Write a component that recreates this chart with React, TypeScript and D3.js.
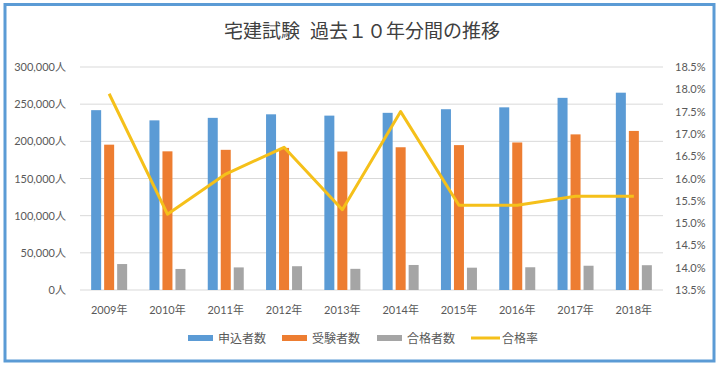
import React from 'react';
import * as d3 from 'd3';

// 宅建試験データ
const years = ['2009', '2010', '2011', '2012', '2013', '2014', '2015', '2016', '2017', '2018'];
const applicants = [241944, 228214, 231596, 236350, 234586, 238343, 243199, 245742, 258511, 265444];
const examinees = [195515, 186542, 188572, 191169, 186304, 192029, 194926, 198463, 209354, 213993];
const passers = [34918, 28311, 30391, 32000, 28470, 33670, 30028, 30589, 32644, 33360];
const passRate = [17.9, 15.2, 16.1, 16.7, 15.3, 17.5, 15.4, 15.4, 15.6, 15.6];
const leftTicks = [0, 50000, 100000, 150000, 200000, 250000, 300000];
const rightTicks = [13.5, 14.0, 14.5, 15.0, 15.5, 16.0, 16.5, 17.0, 17.5, 18.0, 18.5];

const seriesNames = ['申込者数', '受験者数', '合格者数'];
const seriesColors = ['#5B9BD5', '#ED7D31', '#A5A5A5'];
const lineColor = '#F5C01A';

const W = 720;
const H = 366;
const FONT = "Lato, 'Noto Sans CJK JP', sans-serif";

const App = () => {
  const left = 80;
  const right = 663;
  const top = 67;
  const bottom = 290;

  const x = d3.scaleBand().domain(years).range([left, right]).paddingInner(0).paddingOuter(0);
  const yL = d3.scaleLinear().domain([0, 300000]).range([bottom, top]);
  const yR = d3.scaleLinear().domain([13.5, 18.5]).range([bottom, top]);

  const barW = 10;
  const gap = 3;
  const groupW = barW * 3 + gap * 2;

  const data = [applicants, examinees, passers];

  const line = d3
    .line<number>()
    .x((d, i) => (x(years[i]) as number) + x.bandwidth() / 2)
    .y((d) => yR(d));

  const fmt = d3.format(',');

  const legendItems = [
    { name: seriesNames[0], color: seriesColors[0], x: 188, type: 'bar' },
    { name: seriesNames[1], color: seriesColors[1], x: 282, type: 'bar' },
    { name: seriesNames[2], color: seriesColors[2], x: 377, type: 'bar' },
    { name: '合格率', color: lineColor, x: 471, type: 'line' },
  ];

  return (
    <svg width={W} height={H} style={{ position: 'absolute', left: 0, top: 0, fontFamily: FONT }}>
      <rect x={0} y={0} width={W} height={H} fill="#fff" />
      <rect x={5} y={4.5} width={709} height={356.5} fill="#fff" stroke="#5B9BD5" strokeWidth={3} />

      <text x={224} y={38} fontSize={19} fill="#404040" fontFamily="'Noto Sans CJK JP', sans-serif">
        宅建試験
        <tspan dx={10}>過去１０年分間の推移</tspan>
      </text>

      {/* gridlines */}
      {leftTicks.map((t) => (
        <line key={t} x1={left} x2={right} y1={yL(t)} y2={yL(t)} stroke="#D9D9D9" strokeWidth={1} />
      ))}

      {/* left axis labels */}
      {leftTicks.map((t) => (
        <text key={t} x={66} y={yL(t) + 4} textAnchor="end" fontSize={11} fill="#595959">
          {fmt(t)}人
        </text>
      ))}

      {/* right axis labels */}
      {rightTicks.map((t) => (
        <text key={t} x={675} y={yR(t) + 4} textAnchor="start" fontSize={11} fill="#595959">
          {t.toFixed(1)}%
        </text>
      ))}

      {/* bars */}
      {data.map((vals, s) =>
        vals.map((v, i) => {
          const bx = (x(years[i]) as number) + x.bandwidth() / 2 - groupW / 2 + s * (barW + gap);
          return (
            <rect
              key={s + '-' + i}
              x={bx}
              y={yL(v)}
              width={barW}
              height={bottom - yL(v)}
              fill={seriesColors[s]}
            />
          );
        })
      )}

      {/* x labels */}
      {years.map((yr) => (
        <text
          key={yr}
          x={(x(yr) as number) + x.bandwidth() / 2}
          y={314}
          textAnchor="middle"
          fontSize={11}
          fill="#595959"
        >
          {yr}年
        </text>
      ))}

      {/* pass rate line */}
      <path d={line(passRate) || ''} fill="none" stroke={lineColor} strokeWidth={3} strokeLinejoin="round" />

      {/* legend */}
      {legendItems.map((it) => (
        <g key={it.name}>
          {it.type === 'bar' ? (
            <rect x={it.x} y={335} width={25} height={6} fill={it.color} />
          ) : (
            <line x1={it.x} x2={it.x + 29} y1={338} y2={338} stroke={it.color} strokeWidth={3} />
          )}
          <text x={it.x + (it.type === 'bar' ? 30 : 31)} y={342.5} fontSize={12} fill="#595959">
            {it.name}
          </text>
        </g>
      ))}
    </svg>
  );
};

export default App;
